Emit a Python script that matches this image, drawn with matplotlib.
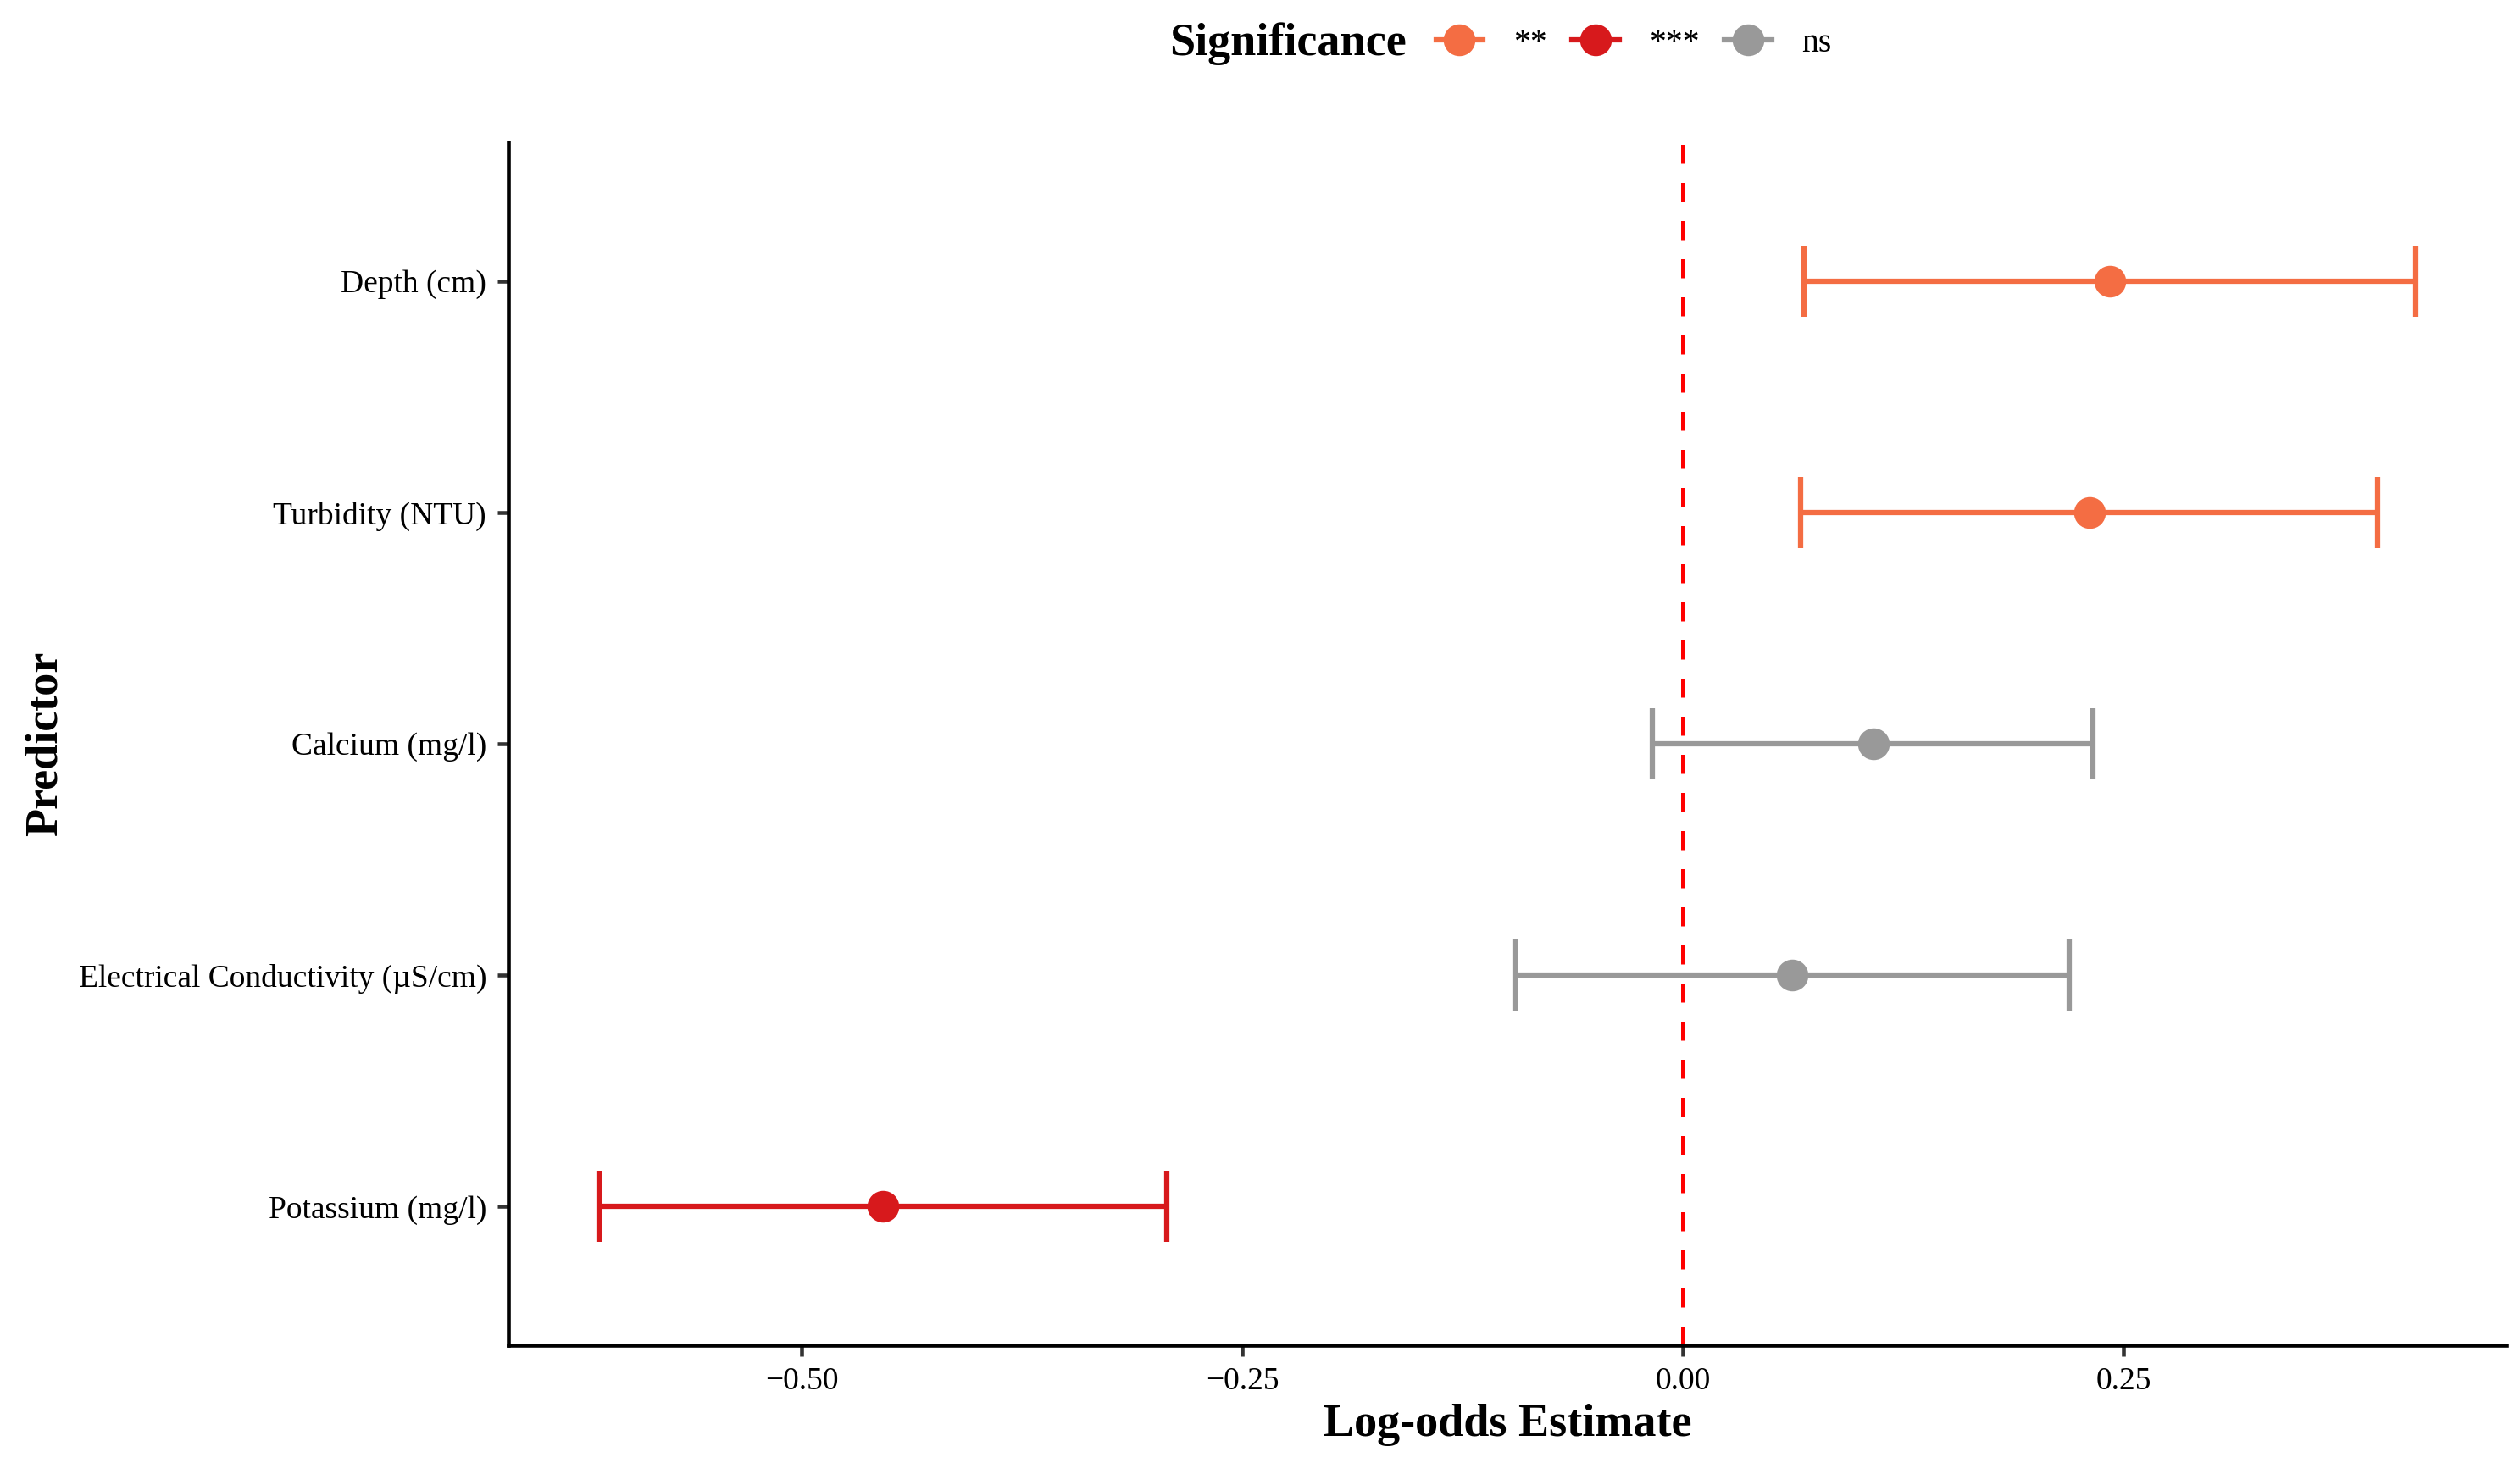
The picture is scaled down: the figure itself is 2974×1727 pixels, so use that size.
import numpy as np
import matplotlib
matplotlib.use("Agg")
from matplotlib import pyplot as plt
from matplotlib.lines import Line2D

plt.rcParams['font.family'] = ['Liberation Serif', 'DejaVu Serif']

# values (bottom -> top)
predictors = ["Potassium (mg/l)", "Electrical Conductivity (\u00b5S/cm)",
              "Calcium (mg/l)", "Turbidity (NTU)", "Depth (cm)"]
estimate = [-0.4537, 0.0619, 0.1079, 0.2307, 0.2423]
ci_low = [-0.6149, -0.0954, -0.0173, 0.0670, 0.0689]
ci_high = [-0.2929, 0.2192, 0.2327, 0.3940, 0.4157]
signif = ["***", "ns", "ns", "**", "**"]

sig_levels = ["**", "***", "ns"]
sig_colors = {"**": "#F46D43", "***": "#D7191C", "ns": "#999999"}

fig = plt.figure(figsize=(2974 / 300, 1727 / 300), dpi=300)
ax = fig.add_axes([0.2017, 0.0805, 0.9946 - 0.2017, 0.9027 - 0.0805])

ypos = np.arange(len(predictors))
for i in range(len(predictors)):
    c = sig_colors[signif[i]]
    ax.errorbar(estimate[i], ypos[i],
                xerr=[[estimate[i] - ci_low[i]], [ci_high[i] - estimate[i]]],
                fmt='o', color=c, ecolor=c, elinewidth=1.5, capsize=10,
                capthick=1.5, markersize=8, zorder=3)

ax.axvline(0, color='#FF0000', linestyle=(0, (4.5, 4.5)), linewidth=1.2, zorder=2)

# ggplot-like expansion
lo = min(ci_low)
hi = max(ci_high)
span = hi - lo
ax.set_xlim(lo - 0.05 * span, hi + 0.05 * span)
ax.set_ylim(-0.6, len(predictors) - 1 + 0.6)

ax.set_xticks([-0.5, -0.25, 0.0, 0.25])
ax.set_xticklabels(["\u22120.50", "\u22120.25", "0.00", "0.25"])
ax.set_yticks(ypos)
ax.set_yticklabels(predictors)

ax.spines['top'].set_visible(False)
ax.spines['right'].set_visible(False)
for s in ['left', 'bottom']:
    ax.spines[s].set_linewidth(1.1)
    ax.spines[s].set_color('black')
ax.tick_params(axis='both', length=3.2, width=1.1, color='#333333',
               labelsize=9, labelcolor='black', pad=3)

ax.set_xlabel("Log-odds Estimate", fontsize=13, fontweight='bold', labelpad=2)
ax.set_ylabel("Predictor", fontsize=13, fontweight='bold')
ax.yaxis.set_label_coords(-0.221, 0.5)

handles = [Line2D([0], [0], color=sig_colors[s], marker='o', markersize=8,
                  linewidth=1.5) for s in sig_levels]
leg = fig.legend(handles, sig_levels, loc='center left', ncol=3,
                 bbox_to_anchor=(0.5645, 0.970), frameon=False, fontsize=9.5,
                 handlelength=1.4, handletextpad=0.9, columnspacing=0.75,
                 borderaxespad=0)
fig.text(0.558, 0.970, "Significance", fontsize=13, fontweight='bold',
         ha='right', va='center')

fig.savefig("out.png", dpi=300)
